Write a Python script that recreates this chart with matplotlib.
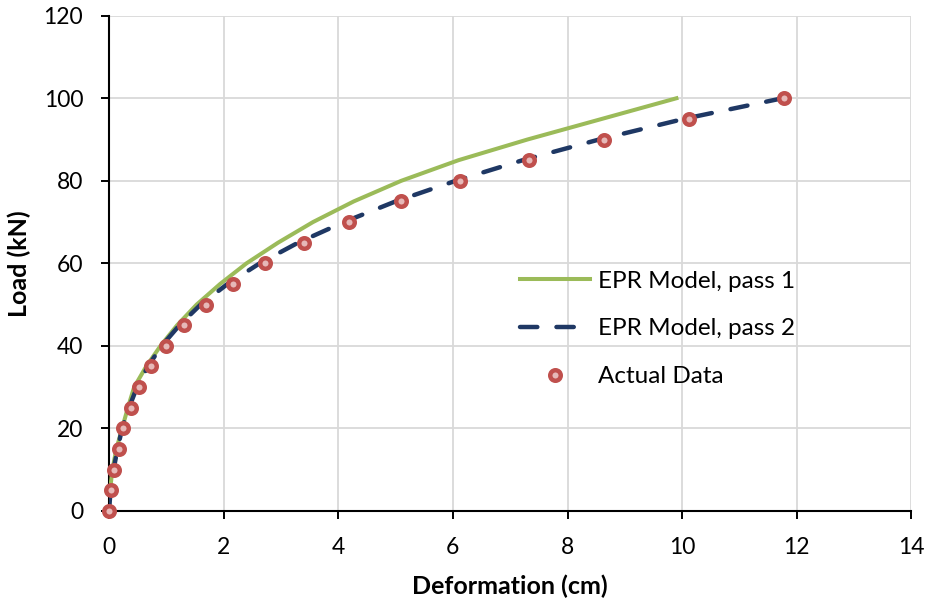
import matplotlib.pyplot as plt

# load levels (kN)
load = [0, 5, 10, 15, 20, 25, 30, 35, 40, 45, 50, 55, 60, 65, 70, 75, 80, 85, 90, 95, 100]

# deformations (cm)
pass1 = [0, 0.02, 0.06, 0.13, 0.23, 0.33, 0.44, 0.65, 0.90, 1.19, 1.53, 1.94, 2.40, 2.95,
         3.56, 4.27, 5.10, 6.10, 7.30, 8.60, 9.90]
pass2 = [0, 0.03, 0.08, 0.15, 0.23, 0.35, 0.49, 0.68, 0.92, 1.23, 1.60, 2.07, 2.63, 3.30,
         4.10, 5.00, 6.05, 7.22, 8.55, 10.03, 11.75]
actual = [0, 0.035, 0.09, 0.17, 0.25, 0.38, 0.53, 0.73, 0.99, 1.31, 1.69, 2.17, 2.73, 3.40,
          4.19, 5.09, 6.12, 7.32, 8.64, 10.12, 11.78]

plt.rcParams['font.family'] = ['Lato', 'DejaVu Sans']

fig = plt.figure(figsize=(9.31, 6.05), dpi=100)
ax = fig.add_axes([0.117, 0.1555, 0.862, 0.8185])

ax.plot(pass1, load, color="#9BBB59", lw=2.9, label="EPR Model, pass 1", zorder=3,
        solid_joinstyle="round")
ax.plot(pass2, load, color="#1F3864", lw=3.2, dashes=(3.9, 4.3), dash_capstyle="round",
        label="EPR Model, pass 2", zorder=4)
ax.plot(actual, load, ls="none", marker="o", ms=7.6, mfc="#E6B9B8", mec="#C0504D", mew=3.2,
        label="Actual Data", zorder=5, clip_on=False)

ax.set_xlim(0, 14)
ax.set_ylim(0, 120)
ax.set_xticks(range(0, 15, 2))
ax.set_yticks(range(0, 121, 20))
ax.grid(color="#D9D9D9", lw=1.3)
ax.set_axisbelow(True)

for s in ["top", "right"]:
    ax.spines[s].set_visible(False)
for s in ["left", "bottom"]:
    ax.spines[s].set_linewidth(1.5)
    ax.spines[s].set_color("black")
ax.tick_params(direction="out", length=5.5, width=1.4, labelsize=16.5, colors="black")
ax.tick_params(axis="x", pad=13)
ax.tick_params(axis="y", pad=13)

ax.set_xlabel("Deformation (cm)", fontsize=18, fontweight="bold", labelpad=12)
ax.set_ylabel("Load (kN)", fontsize=18, fontweight="bold", labelpad=9)

ax.legend(loc="upper left", bbox_to_anchor=(0.50, 0.505), borderaxespad=0, frameon=False,
          fontsize=17.5, handlelength=2.9, labelspacing=1.1, handletextpad=0.3)

fig.savefig("out.png", dpi=100)
